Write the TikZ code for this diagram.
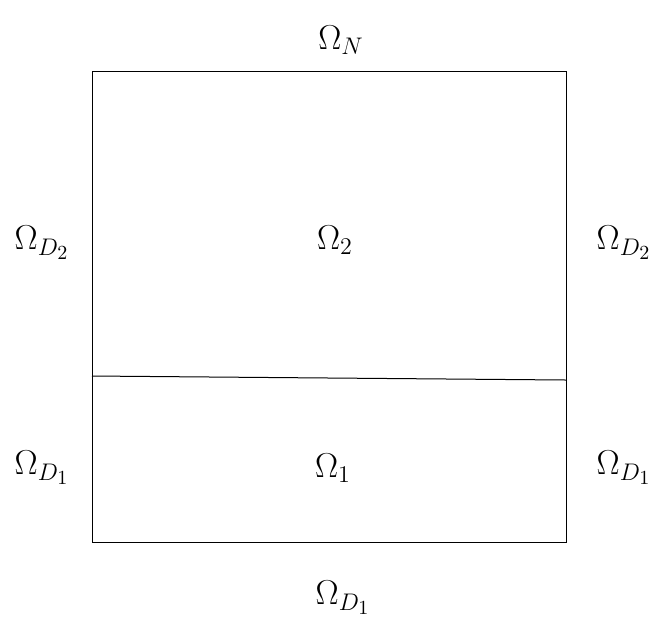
\documentclass[tikz,border=0pt]{standalone}
\usepackage{amsmath,amssymb}
\usetikzlibrary{positioning}

\begin{document}
\begin{tikzpicture}[x=0.5pt,y=-0.5pt,line width=0.5pt,
      every node/.append style={font=\LARGE}]
    \tikzstyle{region} = [inner sep=1pt]
    \useasboundingbox (0,0) rectangle (664,618);
    % outer square and interface
    \coordinate (NW) at (92,71);
    \coordinate (NE) at (566,71);
    \coordinate (SE) at (566,542);
    \coordinate (SW) at (92,542);
    \coordinate (IL) at (92,376);
    \coordinate (IR) at (566,380);
    \draw (NW) -- (NE) -- (SE) -- (SW) -- cycle;
    \draw (IL) -- (IR);
    % boundary and subdomain labels
    \node [region] (omegaN) at (341,40) {$\Omega_N$};
    \node [region] (omega2) at (335,240) {$\Omega_2$};
    \node [region] (omega1) at (333,468) {$\Omega_1$};
    \node [region] (D2left) at (42,243) {$\Omega_{D_2}$};
    \node [region] (D2right) at (624,243) {$\Omega_{D_2}$};
    \node [region] (D1left) at (42,468) {$\Omega_{D_1}$};
    \node [region] (D1right) at (624,468) {$\Omega_{D_1}$};
    \node [region] (D1bottom) at (343,598) {$\Omega_{D_1}$};
\end{tikzpicture}
\end{document}
